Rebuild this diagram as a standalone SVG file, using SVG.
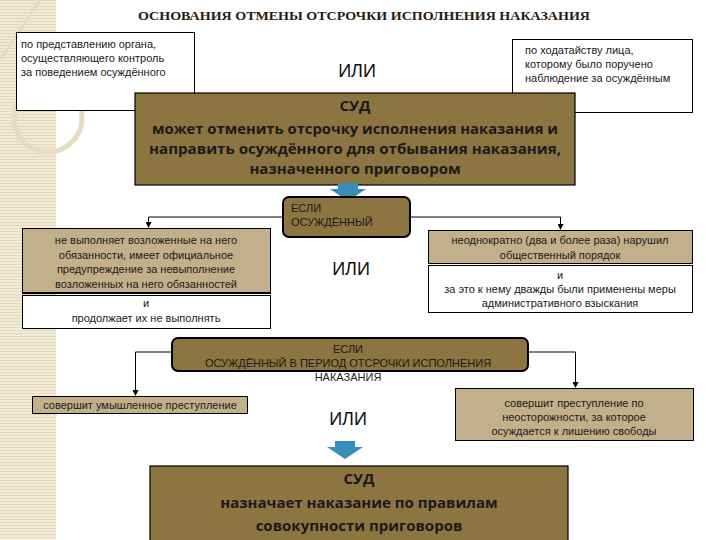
<svg xmlns="http://www.w3.org/2000/svg" width="720" height="540" viewBox="0 0 720 540">
<defs>
<pattern id="stripes" width="6" height="3" patternUnits="userSpaceOnUse">
<rect width="6" height="3" fill="#f1ead6"/>
<rect width="6" height="1" fill="#e3d8b8"/>
</pattern>
<marker id="ahd" markerWidth="6" markerHeight="6" refX="5" refY="3" orient="auto" markerUnits="userSpaceOnUse">
<path d="M0,0 L6,3 L0,6 Z" fill="#000"/>
</marker>
</defs>
<style>
.court{fill:#8c7541;stroke:#000;stroke-width:1.2;}
.cond{fill:#8c7541;stroke:#000;stroke-width:2;}
.tan{fill:#c2b08a;stroke:#000;stroke-width:1;}
.white{fill:#fff;stroke:#000;stroke-width:1;}
.big{font-family:"Open Sans","Liberation Sans",sans-serif;font-weight:bold;font-size:15px;fill:#1a1a1a;text-anchor:middle;}
.sm{font-family:"Liberation Sans","Noto Sans",sans-serif;font-size:11px;fill:#1a1a1a;}
.c{text-anchor:middle;}
.ili{font-family:"Liberation Sans","Noto Sans",sans-serif;font-size:18px;fill:#111;text-anchor:middle;}
.conn{fill:none;stroke:#000;stroke-width:1;}
.blue{fill:#3a8dba;}
</style>
<rect width="720" height="540" fill="#fff"/>
<g id="decor">
<rect x="0" y="0" width="56" height="540" fill="url(#stripes)"/>
<circle cx="48" cy="118" r="34" fill="none" stroke="#e6dcc0" stroke-width="5"/>
<path d="M0,60 L40,0" stroke="#e6dcc0" stroke-width="3" fill="none"/>
</g>
<g id="title">
<text x="364" y="20" font-family="'Liberation Serif','DejaVu Serif',serif" font-size="12" font-weight="bold" fill="#2a1a10" text-anchor="middle" textLength="452" lengthAdjust="spacingAndGlyphs">ОСНОВАНИЯ ОТМЕНЫ ОТСРОЧКИ ИСПОЛНЕНИЯ НАКАЗАНИЯ</text>
</g>
<g id="node-organ">
<rect x="16.5" y="32.5" width="178" height="78" class="white"/>
<text class="sm" x="21" y="48">по представлению органа,</text>
<text class="sm" x="21" y="62">осуществляющего контроль</text>
<text class="sm" x="21" y="76">за поведением осуждённого</text>
</g>
<g id="node-person">
<rect x="512.5" y="39.5" width="180" height="73" class="white"/>
<text class="sm" x="525" y="54">по ходатайству лица,</text>
<text class="sm" x="525" y="68">которому было поручено</text>
<text class="sm" x="525" y="82">наблюдение за осуждённым</text>
</g>
<g id="ili1"><text class="ili" x="357" y="77">ИЛИ</text></g>
<g id="node-court1">
<rect x="135" y="93" width="440" height="92" class="court"/>
<text class="big" x="355" y="111">СУД</text>
<text class="big" x="355" y="134" textLength="406" lengthAdjust="spacingAndGlyphs">может отменить отсрочку исполнения наказания и</text>
<text class="big" x="355" y="154" textLength="412" lengthAdjust="spacingAndGlyphs">направить осуждённого для отбывания наказания,</text>
<text class="big" x="355" y="174">назначенного приговором</text>
</g>
<g id="arrow1"><path class="blue" d="M338,183 H358 V189 H366 L348,201 L330,189 H338 Z"/></g>
<g id="node-if1">
<rect x="283" y="197" width="127" height="40" rx="6" class="cond"/>
<text class="sm" x="291" y="212">ЕСЛИ</text>
<text class="sm" x="291" y="226">ОСУЖДЁННЫЙ</text>
</g>
<g id="node-left1">
<rect x="22.5" y="228.5" width="248" height="64" class="tan"/>
<rect x="22.5" y="295.5" width="248" height="33" class="white"/>
<line x1="22" y1="293.5" x2="271" y2="293.5" stroke="#000"/>
<text class="sm c" x="146" y="244">не выполняет возложенные на него</text>
<text class="sm c" x="146" y="259">обязанности, имеет официальное</text>
<text class="sm c" x="146" y="273">предупреждение за невыполнение</text>
<text class="sm c" x="146" y="288">возложенных на него обязанностей</text>
<text class="sm c" x="146" y="307">и</text>
<text class="sm c" x="146" y="322">продолжает их не выполнять</text>
</g>
<g id="ili2"><text class="ili" x="351" y="275">ИЛИ</text></g>
<g id="node-right1">
<rect x="428.5" y="230.5" width="264" height="33" class="tan"/>
<rect x="428.5" y="265.5" width="264" height="47" class="white"/>
<text class="sm c" x="560" y="244">неоднократно (два и более раза) нарушил</text>
<text class="sm c" x="560" y="259">общественный порядок</text>
<text class="sm c" x="560" y="279">и</text>
<text class="sm c" x="560" y="293">за это к нему дважды были применены меры</text>
<text class="sm c" x="560" y="307">административного взыскания</text>
</g>
<g id="node-if2">
<rect x="172" y="338" width="356" height="33" rx="6" class="cond"/>
<text class="sm c" x="348" y="353">ЕСЛИ</text>
<text class="sm c" x="348" y="367">ОСУЖДЁННЫЙ В ПЕРИОД ОТСРОЧКИ ИСПОЛНЕНИЯ</text>
<text class="sm c" x="348" y="381">НАКАЗАНИЯ</text>
</g>
<g id="node-left2">
<rect x="32.5" y="396.5" width="215" height="17" class="tan"/>
<text class="sm c" x="140" y="409">совершит умышленное преступление</text>
</g>
<g id="ili3"><text class="ili" x="348" y="425">ИЛИ</text></g>
<g id="node-right2">
<rect x="455.5" y="388.5" width="238" height="52" class="tan"/>
<text class="sm c" x="574" y="407">совершит преступление по</text>
<text class="sm c" x="574" y="421">неосторожности, за которое</text>
<text class="sm c" x="574" y="435">осуждается к лишению свободы</text>
</g>
<g id="arrow2"><path class="blue" d="M335,441 H355 V447 H363 L345,459 L327,447 H335 Z"/></g>
<g id="node-court2">
<rect x="150" y="466" width="418" height="80" class="court"/>
<text class="big" x="359" y="484">СУД</text>
<text class="big" x="359" y="508">назначает наказание по правилам</text>
<text class="big" x="359" y="531">совокупности приговоров</text>
</g>
<g id="connectors">
<path class="conn" d="M283,217 H148.5 V227" marker-end="url(#ahd)"/>
<path class="conn" d="M410,217 H560.5 V229" marker-end="url(#ahd)"/>
<path class="conn" d="M172,352 H135.5 V395" marker-end="url(#ahd)"/>
<path class="conn" d="M528,352 H575.5 V387" marker-end="url(#ahd)"/>
</g>
</svg>
